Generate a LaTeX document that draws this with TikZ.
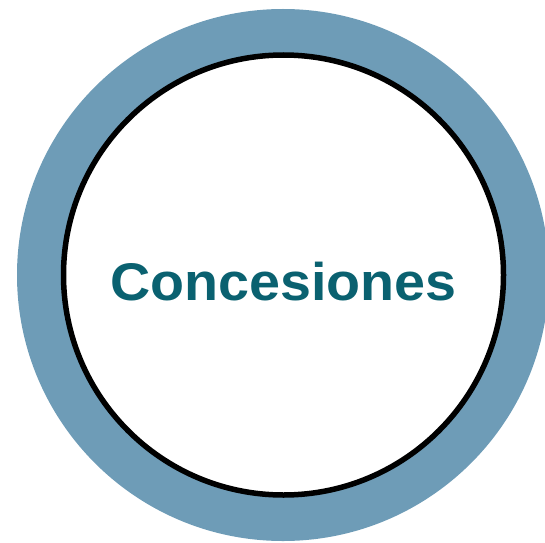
\documentclass[tikz,border=0pt]{standalone}
\usepackage{fontspec}
\setmainfont{Liberation Sans}
\newfontfamily\labelfont{Liberation Sans}
\definecolor{ringblue}{HTML}{6E9CB7}
\definecolor{titleteal}{HTML}{0A6170}
\begin{document}
\begin{tikzpicture}[x=1pt,y=1pt,
  ringstyle/.style={fill=ringblue, draw=none},
  innerstyle/.style={fill=white, draw=black, line width=5.5pt},
  titlestyle/.style={text=titleteal, font=\labelfont\bfseries\fontsize{53}{60}\selectfont, anchor=base, inner sep=0pt, xscale=1.05, transform shape}]
\useasboundingbox (0,0) rectangle (545,542);
\begin{scope}
\clip (0,0) rectangle (545,542);
\fill[ringstyle] (283,267) circle (266);
\end{scope}
\draw[innerstyle] (283.5,267) circle (220);
\node[titlestyle] (title) at (283.5,242) {Concesiones};
\end{tikzpicture}
\end{document}
